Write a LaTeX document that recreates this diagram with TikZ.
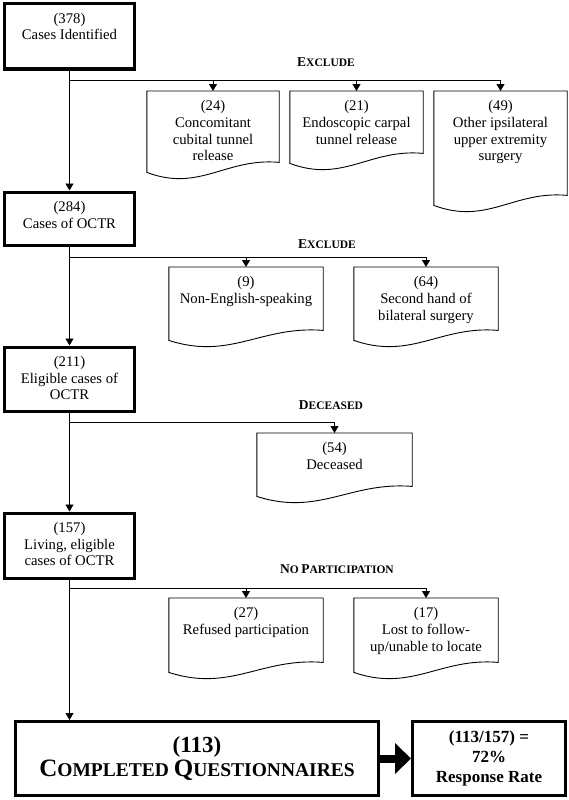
\documentclass[tikz,border=0pt]{standalone}
\usepackage{fontspec}
\setmainfont{Liberation Serif}
\usepackage{tikz}
\usetikzlibrary{arrows.meta,calc}

% small caps by hand (first letter big, rest small)
\newcommand{\fsc}[2]{{\fontsize{13.5}{14}\selectfont #1}{\fontsize{11.5}{14}\selectfont #2}}
% text pinned to the top of a box: width, height, text
\newcommand{\topbox}[3]{\parbox[c][#2pt][t]{#1pt}{\centering\vspace*{9pt}#3}}

\tikzset{
  mainbox/.style={draw, line width=3pt, inner sep=0pt, anchor=north},
  docbox/.style={inner sep=0pt, anchor=north},
  docline/.style={line width=0.9pt},
  link/.style={line width=0.9pt, -{Triangle[length=7pt,width=8pt]}},
  branch/.style={font=\bfseries}
}

\begin{document}
\begin{tikzpicture}[x=1pt,y=-1pt,font=\fontsize{14.7}{16.8}\selectfont]
  \useasboundingbox (0,0) rectangle (568,800);

  % Colonne principale
  \node[mainbox] (n378) at (69.5,2.5) {\topbox{130}{65}{(378)\\Cases Identified}};
  \node[mainbox] (n284) at (69.5,190.5) {\topbox{130}{53}{(284)\\Cases of OCTR}};
  \node[mainbox] (n211) at (69.5,345.5) {\topbox{130}{64}{(211)\\Eligible cases of\\OCTR}};
  \node[mainbox] (n157) at (69.5,511.5) {\topbox{130}{65}{(157)\\Living, eligible\\cases of OCTR}};

  % Cases exclues
  \node[docbox] (d24) at (213,91) {\topbox{132}{81}{(24)\\Concomitant\\cubital tunnel\\release}};
  \node[docbox] (d21) at (356.5,91) {\topbox{133}{72}{(21)\\Endoscopic carpal\\tunnel release}};
  \node[docbox] (d49) at (500.5,91) {\topbox{133}{114}{(49)\\Other ipsilateral\\upper extremity\\surgery}};
  \node[docbox] (d9) at (246,267) {\topbox{154}{73}{(9)\\Non-English-speaking}};
  \node[docbox] (d64) at (426,267) {\topbox{144}{73}{(64)\\Second hand of\\bilateral surgery}};
  \node[docbox] (d54) at (334.5,433) {\topbox{155}{63}{(54)\\Deceased}};
  \node[docbox] (d27) at (246,598) {\topbox{154}{74}{(27)\\Refused participation}};
  \node[docbox] (d17) at (426,598) {\topbox{144}{74}{(17)\\Lost to follow-\\up/unable to locate}};

  % Contours en forme de document
  \foreach \n in {d24,d21,d49,d9,d64,d54,d27,d17} {
    \draw[docline] (\n.north west) -- (\n.north east) -- ($(\n.south east)+(0,-10)$)
      .. controls ($(\n.south west)!0.6!(\n.south east)+(0,-15)$)
      and ($(\n.south west)!0.4!(\n.south east)+(0,20)$) .. (\n.south west) -- cycle;
  }

  % Titres des branches
  \node[branch] (x1) at (326,62) {\fsc{E}{XCLUDE}};
  \node[branch] (x2) at (327,244) {\fsc{E}{XCLUDE}};
  \node[branch] (x3) at (331,405) {\fsc{D}{ECEASED}};
  \node[branch] (x4) at (337,569) {\fsc{N}{O} \fsc{P}{ARTICIPATION}};

  % Resultat
  \node[mainbox, anchor=center, minimum width=363pt, minimum height=74pt, align=center]
    (done) at (197,758.5) {{\bfseries\fontsize{23}{24}\selectfont (113)}\\[1pt]
    {\bfseries\fontsize{25}{24}\selectfont C\fontsize{19.5}{24}\selectfont OMPLETED
     \fontsize{25}{24}\selectfont Q\fontsize{19.5}{24}\selectfont UESTIONNAIRES}};
  \node[mainbox, anchor=center, minimum width=153pt, minimum height=74pt, align=center,
    font=\fontsize{17}{20}\selectfont\bfseries] (rate) at (489,758.5)
    {(113/157) =\\72\%\\Response Rate};

  % Points de branchement
  \coordinate (s1) at (69.5,80);
  \coordinate (s2) at (69.5,257);
  \coordinate (s3) at (69.5,422);
  \coordinate (s4) at (69.5,588);

  % Fleches
  \draw[link] (n378) -- (n284);
  \draw[link] (n284) -- (n211);
  \draw[link] (n211) -- (n157);
  \draw[link] (n157) -- (n157 |- done.north);
  \foreach \n in {d24,d21,d49} \draw[link] (s1) -| (\n.north);
  \foreach \n in {d9,d64} \draw[link] (s2) -| (\n.north);
  \draw[link] (s3) -| (d54.north);
  \foreach \n in {d27,d17} \draw[link] (s4) -| (\n.north);
  \draw[line width=8pt, -{Triangle[length=16pt,width=30pt]}] (done) -- (rate);
\end{tikzpicture}
\end{document}
